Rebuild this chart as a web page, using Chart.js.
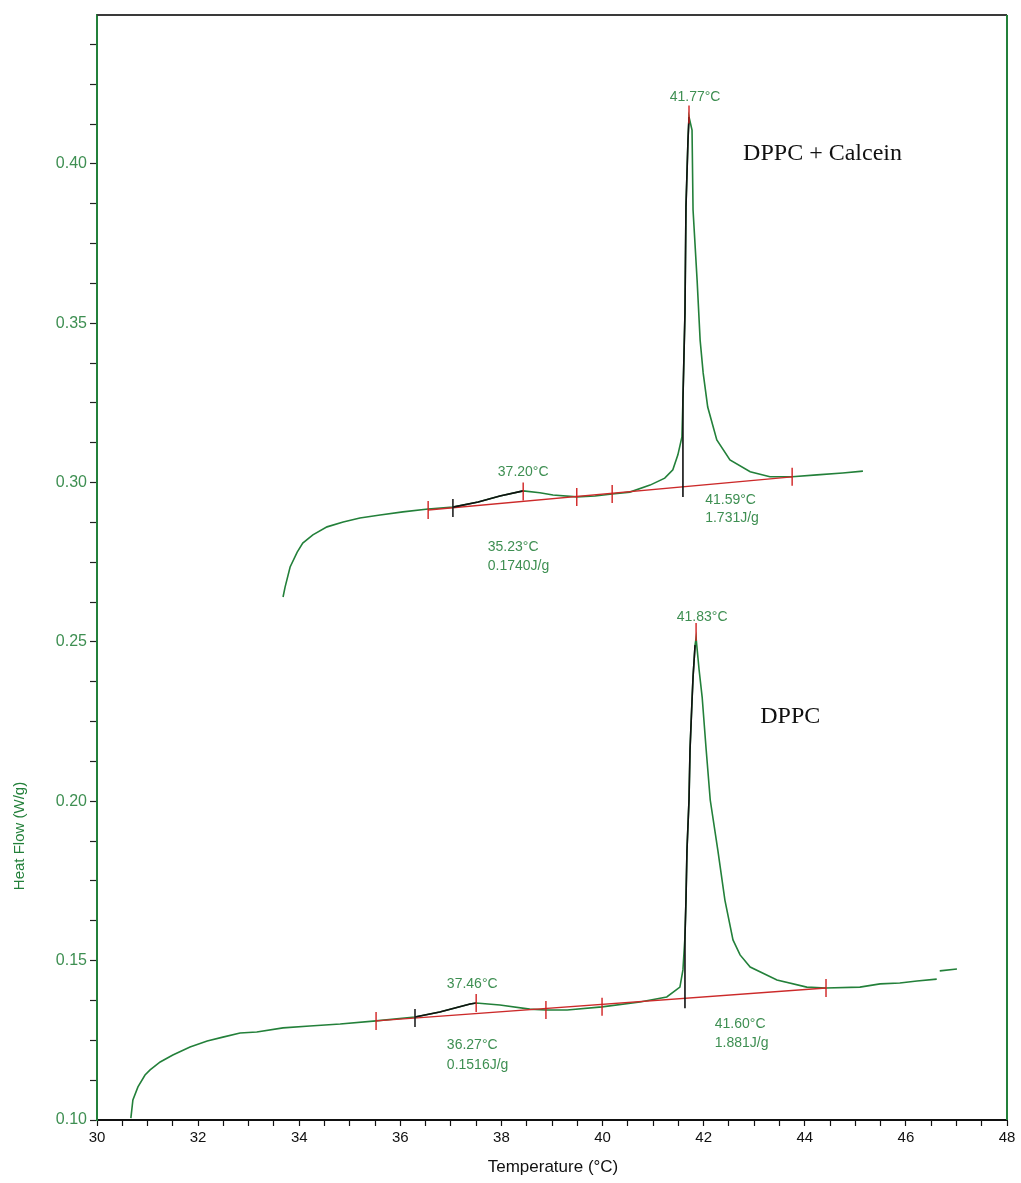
<!DOCTYPE html>
<html>
<head>
<meta charset="utf-8">
<script src="https://cdn.jsdelivr.net/npm/chart.js@4.4.1/dist/chart.umd.min.js"></script>
<style>
  html, body { margin:0; padding:0; background:#fff; }
  #wrap { width:1021px; height:1183px; }
</style>
</head>
<body>
<div id="wrap"><canvas id="dsc" width="1021" height="1183"></canvas></div>
<script>
// DPPC + Calcein (curva de arriba)
const upperTemp = [33.68,33.72,33.82,33.96,34.07,34.27,34.55,34.87,35.20,35.60,36.05,36.55,37.04,37.54,37.97,38.43,38.76,39.02,39.49,39.85,40.19,40.54,40.94,41.23,41.39,41.49,41.57,41.59,41.63,41.65,41.69,41.71,41.77,41.79,41.87,41.93,41.99,42.08,42.26,42.52,42.92,43.31,43.75,44.24,44.75,45.15];
const upperHeat = [0.2641,0.2672,0.2735,0.2782,0.2810,0.2836,0.2861,0.2876,0.2889,0.2898,0.2908,0.2917,0.2923,0.2939,0.2958,0.2974,0.2968,0.2961,0.2955,0.2958,0.2964,0.2970,0.2992,0.3014,0.3040,0.3087,0.3143,0.3259,0.3532,0.3865,0.4075,0.4147,0.4106,0.3855,0.3636,0.3447,0.3344,0.3237,0.3134,0.3071,0.3034,0.3018,0.3018,0.3024,0.3030,0.3036];

// DPPC (curva de abajo)
const lowerTemp = [30.67,30.71,30.81,30.95,31.05,31.25,31.50,31.84,32.18,32.49,32.83,33.16,33.68,34.21,34.81,35.52,36.29,36.78,37.38,37.50,37.97,38.56,38.88,39.30,39.99,40.74,41.27,41.53,41.59,41.63,41.65,41.67,41.71,41.73,41.77,41.79,41.83,41.85,41.91,41.97,42.05,42.13,42.28,42.42,42.58,42.72,42.92,43.45,44.04,44.42,45.09,45.49,45.88,46.22,46.61];
const lowerHeat = [0.1006,0.1063,0.1104,0.1141,0.1157,0.1182,0.1204,0.1229,0.1248,0.1260,0.1273,0.1276,0.1289,0.1295,0.1301,0.1311,0.1323,0.1339,0.1364,0.1367,0.1361,0.1348,0.1345,0.1345,0.1355,0.1370,0.1386,0.1417,0.1471,0.1574,0.1690,0.1847,0.2004,0.2161,0.2318,0.2390,0.2490,0.2512,0.2412,0.2327,0.2161,0.2004,0.1847,0.1690,0.1565,0.1518,0.1480,0.1439,0.1417,0.1414,0.1417,0.1427,0.1430,0.1436,0.1442];
const lowerTailTemp = [46.67,47.01];
const lowerTailHeat = [0.1468,0.1474];

// lineas base (rojo) e integracion (negro)
const upperBaseTemp = [36.55,43.75];
const upperBaseHeat = [0.2914,0.3018];
const lowerBaseTemp = [35.52,44.42];
const lowerBaseHeat = [0.1311,0.1414];

const upperBumpTemp = [37.04,37.54,37.97,38.43];
const upperBumpHeat = [0.2923,0.2939,0.2958,0.2974];
const upperOnsetTemp = [41.59,41.59,41.63,41.65,41.69,41.71];
const upperOnsetHeat = [0.2955,0.3259,0.3532,0.3865,0.4075,0.4147];
const lowerBumpTemp = [36.29,36.78,37.38,37.50];
const lowerBumpHeat = [0.1323,0.1339,0.1364,0.1367];
const lowerOnsetTemp = [41.63,41.63,41.65,41.67,41.71,41.73,41.77,41.79,41.83];
const lowerOnsetHeat = [0.1351,0.1574,0.1690,0.1847,0.2004,0.2161,0.2318,0.2390,0.2490];

// marcas verticales
const redMarkTemp = [36.55,38.43,39.49,40.19,43.75,41.71,35.52,37.50,38.88,39.99,44.42,41.85];
const redMarkHeat = [0.2914,0.2972,0.2955,0.2964,0.3018,0.4155,0.1311,0.1367,0.1345,0.1355,0.1414,0.2531];
const blackMarkTemp = [37.04,36.29];
const blackMarkHeat = [0.2920,0.1320];

// textos del grafico
const noteText = ['41.77°C','37.20°C','41.59°C','1.731J/g','35.23°C','0.1740J/g','41.83°C','37.46°C','36.27°C','0.1516J/g','41.60°C','1.881J/g'];
const noteTemp = [41.83,38.43,42.03,42.03,37.73,37.73,41.97,36.92,36.92,36.92,42.22,42.22];
const noteHeat = [0.4210,0.3033,0.2945,0.2889,0.2798,0.2738,0.2578,0.1427,0.1235,0.1173,0.1301,0.1242];
const noteAlign = ['center','center','left','left','left','left','center','left','left','left','left','left'];
const sampleText = ['DPPC + Calcein','DPPC'];
const sampleTemp = [42.78,43.12];
const sampleHeat = [0.4032,0.2265];

const xTicks = [];
for (let t = 30; t <= 48.001; t += 0.5) xTicks.push(Math.round(t*10)/10);
const yTicks = [];
for (let i = 0; i <= 27; i++) yTicks.push(Math.round((0.10 + i*0.0125)*10000)/10000);

const toXY = (xs, ys) => xs.map((x,i)=>({x:x, y:ys[i]}));

const GREEN = '#23803a';
const TEXT_GREEN = '#3e8f52';
const SANS = '"Liberation Sans", Arial, sans-serif';

const overlay = {
    id:'overlay',
    afterDraw(chart){
        const ctx = chart.ctx, a = chart.chartArea;
        const xs = chart.scales.x, ys = chart.scales.y;
        ctx.save();
        // marco superior y derecho
        ctx.lineWidth = 2;
        ctx.strokeStyle = '#3a3a3a';
        ctx.beginPath(); ctx.moveTo(a.left, a.top); ctx.lineTo(a.right, a.top); ctx.stroke();
        ctx.strokeStyle = GREEN;
        ctx.beginPath(); ctx.moveTo(a.right, a.top); ctx.lineTo(a.right, a.bottom); ctx.stroke();

        // anotaciones de picos
        ctx.fillStyle = TEXT_GREEN;
        ctx.font = '14px ' + SANS;
        ctx.textBaseline = 'middle';
        noteText.forEach((txt,i)=>{
            ctx.textAlign = noteAlign[i];
            ctx.fillText(txt, xs.getPixelForValue(noteTemp[i]), ys.getPixelForValue(noteHeat[i]));
        });
        ctx.fillStyle = '#111';
        ctx.font = '24px "Liberation Serif", "Times New Roman", serif';
        ctx.textAlign = 'left';
        sampleText.forEach((txt,i)=>{
            ctx.fillText(txt, xs.getPixelForValue(sampleTemp[i]), ys.getPixelForValue(sampleHeat[i]));
        });

        // titulo eje X
        ctx.fillStyle = '#111';
        ctx.font = '17px ' + SANS;
        ctx.textAlign = 'center';
        ctx.fillText('Temperature (°C)', 553, 1167);

        // titulo eje Y
        ctx.fillStyle = GREEN;
        ctx.font = '15px ' + SANS;
        ctx.translate(20, 836);
        ctx.rotate(-Math.PI/2);
        ctx.fillText('Heat Flow (W/g)', 0, 0);
        ctx.restore();
    }
};

function lineSet(data, color, width, order){
    return { data:data, borderColor:color, borderWidth:width, pointRadius:0, showLine:true, fill:false, tension:0, order:order };
}
function markSet(data, color, width){
    return { data:data, borderColor:color, backgroundColor:color, showLine:false, pointStyle:'line', pointRadius:9, rotation:90, pointBorderWidth:width, order:0 };
}

new Chart(document.getElementById('dsc'), {
    type:'scatter',
    data:{
        datasets:[
            markSet(toXY(redMarkTemp, redMarkHeat), '#d02020', 1.4),
            markSet(toXY(blackMarkTemp, blackMarkHeat), '#222', 1.6),
            lineSet(toXY(upperBumpTemp, upperBumpHeat), '#111', 1.6, 1),
            lineSet(toXY(upperOnsetTemp, upperOnsetHeat), '#111', 1.6, 1),
            lineSet(toXY(lowerBumpTemp, lowerBumpHeat), '#111', 1.6, 1),
            lineSet(toXY(lowerOnsetTemp, lowerOnsetHeat), '#111', 1.6, 1),
            lineSet(toXY(upperBaseTemp, upperBaseHeat), '#cc2a2a', 1.4, 2),
            lineSet(toXY(lowerBaseTemp, lowerBaseHeat), '#cc2a2a', 1.4, 2),
            lineSet(toXY(upperTemp, upperHeat), GREEN, 1.6, 3),
            lineSet(toXY(lowerTemp, lowerHeat), GREEN, 1.6, 3),
            lineSet(toXY(lowerTailTemp, lowerTailHeat), GREEN, 1.6, 3)
        ]
    },
    options:{
        responsive:false,
        animation:false,
        events:[],
        layout:{ padding:{ left:0, right:14, top:15, bottom:0 } },
        plugins:{ legend:{display:false}, tooltip:{enabled:false} },
        scales:{
            x:{
                type:'linear', min:30, max:48,
                afterBuildTicks: s => { s.ticks = xTicks.map(v=>({value:v})); },
                afterFit: s => { s.height = 63; },
                grid:{ drawOnChartArea:false, drawTicks:true, tickLength:6, color:'#111', tickWidth:1.2 },
                border:{ display:true, color:'#111', width:2 },
                ticks:{
                    autoSkip:false, maxRotation:0, padding:3, color:'#111',
                    font:{ family:SANS, size:15 },
                    callback: v => (Math.abs(v % 2) < 1e-6 ? String(v) : '')
                }
            },
            y:{
                type:'linear', min:0.10, max:0.4467,
                afterBuildTicks: s => { s.ticks = yTicks.map(v=>({value:v})); },
                afterFit: s => { s.width = 97; },
                grid:{ drawOnChartArea:false, drawTicks:true, tickLength:7, color:'#222', tickWidth:1.2 },
                border:{ display:true, color:GREEN, width:2 },
                ticks:{
                    autoSkip:false, padding:3, color:TEXT_GREEN,
                    font:{ family:SANS, size:16 },
                    callback: v => { const r = v/0.05; return Math.abs(r - Math.round(r)) < 1e-6 ? v.toFixed(2) : ''; }
                }
            }
        }
    },
    plugins:[overlay]
});
</script>
</body>
</html>
